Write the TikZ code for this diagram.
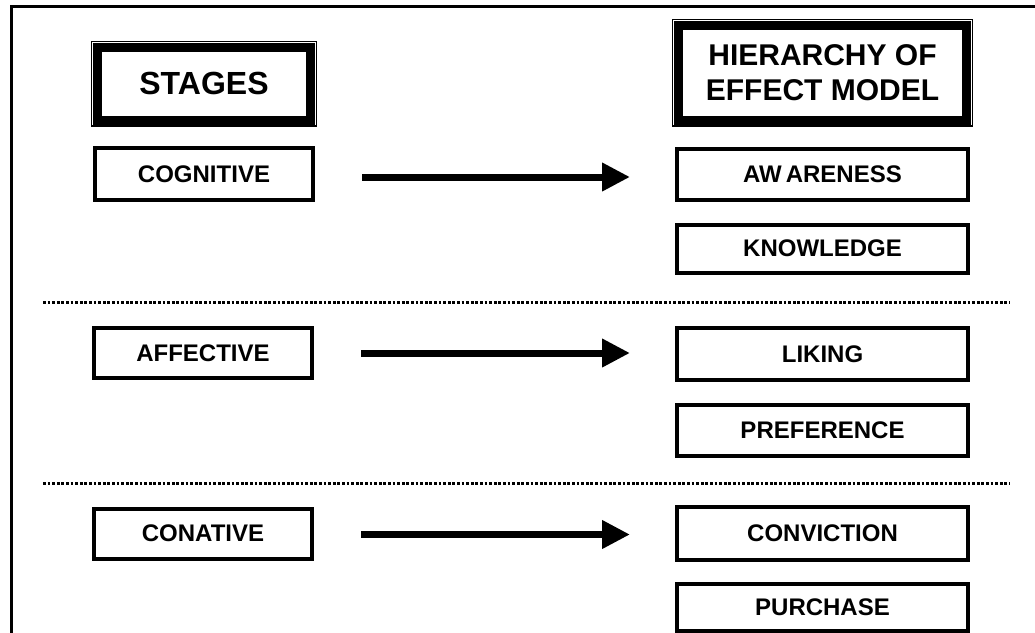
\documentclass[tikz,border=0pt]{standalone}
\usepackage{fontspec}
\setmainfont{Liberation Sans}
\usetikzlibrary{arrows.meta,calc}
\begin{document}
\begin{tikzpicture}[x=1pt,y=-1pt,
  lbox/.style={draw, line width=4pt, outer sep=0pt, inner sep=0pt,
    minimum width=218pt, minimum height=50pt,
    font=\fontsize{24}{28}\selectfont\bfseries},
  rbox/.style={lbox, minimum width=291pt},
  hbox/.style={draw, line width=9pt, outer sep=0pt, inner sep=0pt, align=center,
    font=\fontsize{30}{35}\selectfont\bfseries},
  thinframe/.style={line width=1.8pt},
  sepline/.style={line width=3pt, dash pattern=on 2.8pt off 1.8pt},
  flow/.style={line width=7pt, -{Triangle[length=28pt,width=27pt]}},
  frame/.style={line width=3pt}]
\useasboundingbox (0,0) rectangle (1035,632);
\clip (0,0) rectangle (1035,632);
\fill[white] (0,0) rectangle (1035,632);

% outer frame (left and top)
\coordinate (f1) at (11,700);
\coordinate (f2) at (11,6);
\coordinate (f3) at (1040,6);
\draw[frame] (f1) -- (f2) -- (f3);

% headers
\node[hbox, minimum width=213pt, minimum height=72.5pt,
  font=\fontsize{32}{36}\selectfont\bfseries] (st) at (204,83.75) {STAGES};
\draw[thinframe] ([shift={(-6,-6)}]st.north west) rectangle ([shift={(6,6)}]st.south east);
\node[hbox, minimum width=288pt, minimum height=94.5pt] (hm) at (822.5,72.75) {HIERARCHY OF\\EFFECT MODEL};
\draw[thinframe] ([shift={(-6,-6)}]hm.north west) rectangle ([shift={(6,6)}]hm.south east);

% left column
\node[lbox, minimum height=52pt] (cog) at (204,174) {COGNITIVE};
\node[lbox] (aff) at (203,353) {AFFECTIVE};
\node[lbox] (con) at (203,533.5) {CONATIVE};

% right column
\node[rbox, minimum height=51pt] (aw) at (822.5,174.5) {AW\,ARENESS};
\node[rbox, minimum height=48pt] (kn) at (822.5,248.5) {KNOWLEDGE};
\node[rbox, minimum height=52pt] (li) at (822.5,354) {LIKING};
\node[rbox, minimum height=51pt] (pr) at (822.5,430.5) {PREFERENCE};
\node[rbox, minimum height=53pt] (cv) at (822.5,533.5) {CONVICTION};
\node[rbox, minimum height=47pt] (pu) at (822.5,607) {PURCHASE};

% separators
\coordinate (s1a) at (43,302);
\coordinate (s1b) at (1010,302);
\coordinate (s2a) at (43,483);
\coordinate (s2b) at (1010,483);
\draw[sepline] (s1a) -- (s1b);
\draw[sepline] (s2a) -- (s2b);

% arrows
\draw[flow] ($(cog.east)+(49,3)$) -- ($(cog.east -| aw.west)+(-47,3)$);
\draw[flow] ($(aff.east)+(49,0)$) -- ($(aff.east -| li.west)+(-47,0)$);
\draw[flow] ($(con.east)+(49,1)$) -- ($(con.east -| cv.west)+(-47,1)$);
\end{tikzpicture}
\end{document}
